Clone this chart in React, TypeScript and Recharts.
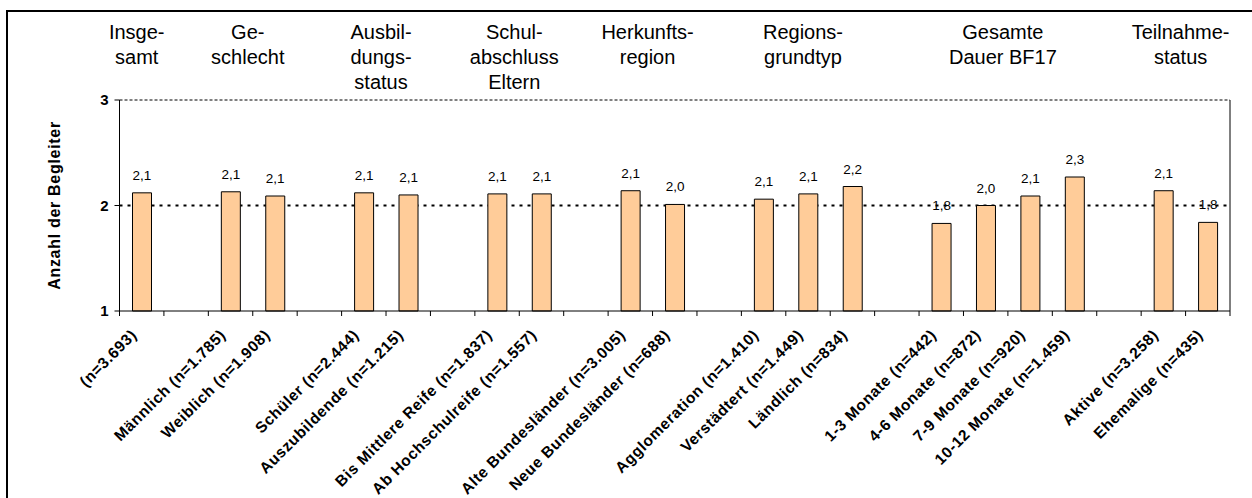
import React from "react"
import { BarChart, Bar, XAxis, YAxis, CartesianGrid, ReferenceLine, LabelList, Label } from "recharts"

// category labels, "" = gap between groups
const categories = [
  "(n=3.693)",
  "",
  "Männlich (n=1.785)",
  "Weiblich (n=1.908)",
  "",
  "Schüler (n=2.444)",
  "Auszubildende (n=1.215)",
  "",
  "Bis Mittlere Reife (n=1.837)",
  "Ab Hochschulreife (n=1.557)",
  "",
  "Alte Bundesländer (n=3.005)",
  "Neue Bundesländer (n=688)",
  "",
  "Agglomeration (n=1.410)",
  "Verstädtert (n=1.449)",
  "Ländlich (n=834)",
  "",
  "1-3 Monate (n=442)",
  "4-6 Monate (n=872)",
  "7-9 Monate (n=920)",
  "10-12 Monate (n=1.459)",
  "",
  "Aktive (n=3.258)",
  "Ehemalige (n=435)",
]

const values = [
  2.12, null, 2.13, 2.09, null, 2.12, 2.1, null, 2.11, 2.11, null, 2.14, 2.01, null,
  2.06, 2.11, 2.18, null, 1.83, 2.0, 2.09, 2.27, null, 2.14, 1.84,
]

const groupTitles = [
  ["Insge-", "samt"],
  ["Ge-", "schlecht"],
  ["Ausbil-", "dungs-", "status"],
  ["Schul-", "abschluss", "Eltern"],
  ["Herkunfts-", "region"],
  ["Regions-", "grundtyp"],
  ["Gesamte", "Dauer BF17"],
  ["Teilnahme-", "status"],
]
const groupStart = [0, 2, 5, 8, 11, 14, 18, 23]
const groupSize = [1, 2, 2, 2, 2, 3, 4, 2]

const yTicks = [1, 2, 3]

const data = categories.map((name, i) => ({ name, value: values[i] }))

const W = 1244
const H = 486
const LEFT = 111.5
const RIGHT = 21
const BAND = (W - LEFT - RIGHT - 1) / categories.length
const FONT = '"Liberation Sans", Arial, sans-serif'

const BottomTick = (props: any) => {
  const { x, y, payload, index } = props
  const axisY = y - 8
  const tx = x - 4
  const ty = axisY + 25
  return (
    <g>
      <line x1={x - BAND / 2} y1={axisY} x2={x - BAND / 2} y2={axisY + 5} stroke="#000" />
      {index === categories.length - 1 && (
        <line x1={x + BAND / 2} y1={axisY} x2={x + BAND / 2} y2={axisY + 5} stroke="#000" />
      )}
      {payload.value ? (
        <text
          x={tx}
          y={ty}
          textAnchor="end"
          transform={`rotate(-45 ${tx} ${ty})`}
          fontFamily={FONT}
          fontSize={15.5}
          fontWeight="bold"
          letterSpacing={0.6}
          fill="#000"
        >
          {payload.value}
        </text>
      ) : null}
    </g>
  )
}

const TopTick = (props: any) => {
  const { x, y, index } = props
  const g = groupStart.indexOf(index)
  if (g < 0) return <g />
  const cx = x + ((groupSize[g] - 1) * BAND) / 2 - 5
  return (
    <text textAnchor="middle" fontFamily={FONT} fontSize={20} fill="#000">
      {groupTitles[g].map((line, k) => (
        <tspan key={k} x={cx} y={y - 61 + k * 25}>
          {line}
        </tspan>
      ))}
    </text>
  )
}

const YTitle = (props: any) => {
  const vb = props.viewBox
  const tx = vb.x + 40.5
  const ty = vb.y + vb.height / 2
  return (
    <text
      x={tx}
      y={ty}
      textAnchor="middle"
      transform={`rotate(-90 ${tx} ${ty})`}
      fontFamily={FONT}
      fontSize={16}
      fontWeight="bold"
      letterSpacing={0.7}
      fill="#000"
    >
      Anzahl der Begleiter
    </text>
  )
}

const fmt = (v: any) => (v == null ? "" : Number(v).toFixed(1).replace(".", ","))

export default function App() {
  return (
    <div
      style={{
        position: "fixed",
        left: 6,
        top: 10,
        width: 1246,
        height: 488,
        borderTop: "2px solid #000",
        borderLeft: "2px solid #000",
        boxSizing: "border-box",
        background: "#fff",
        overflow: "hidden",
      }}
    >
      <BarChart
        width={W}
        height={H}
        data={data}
        margin={{ top: 0, right: RIGHT, left: LEFT - 100, bottom: 0 }}
        style={{ fontFamily: FONT }}
      >
        <CartesianGrid vertical={false} horizontalValues={[2]} stroke="#000" strokeWidth={2} strokeDasharray="3 5" />
        <ReferenceLine y={3} stroke="#000" strokeWidth={1} strokeDasharray="3 2" />
        <XAxis
          dataKey="name"
          interval={0}
          height={187}
          tickLine={false}
          tickSize={5}
          tickMargin={3}
          axisLine={{ stroke: "#000" }}
          tick={BottomTick}
        />
        <XAxis
          xAxisId="top"
          orientation="top"
          dataKey="name"
          interval={0}
          height={88}
          axisLine={false}
          tickLine={false}
          tickSize={0}
          tickMargin={0}
          tick={TopTick}
        />
        <YAxis
          domain={[1, 3]}
          ticks={yTicks}
          interval={0}
          width={100}
          axisLine={{ stroke: "#000" }}
          tickLine={{ stroke: "#000" }}
          tickSize={5}
          tickMargin={6}
          tick={{ fill: "#000", fontSize: 15, fontWeight: "bold", fontFamily: FONT }}
        >
          <Label content={YTitle} />
        </YAxis>
        <YAxis
          yAxisId="r"
          orientation="right"
          domain={[1, 3]}
          width={1}
          tick={false}
          tickLine={false}
          axisLine={{ stroke: "#000", strokeWidth: 1 }}
        />
        <Bar dataKey="value" fill="#FFCC99" stroke="#000" strokeWidth={1} barSize={19} isAnimationActive={false}>
          <LabelList dataKey="value" position="top" offset={13} formatter={fmt} fill="#000" fontSize={13.5} fontFamily={FONT} />
        </Bar>
      </BarChart>
    </div>
  )
}
